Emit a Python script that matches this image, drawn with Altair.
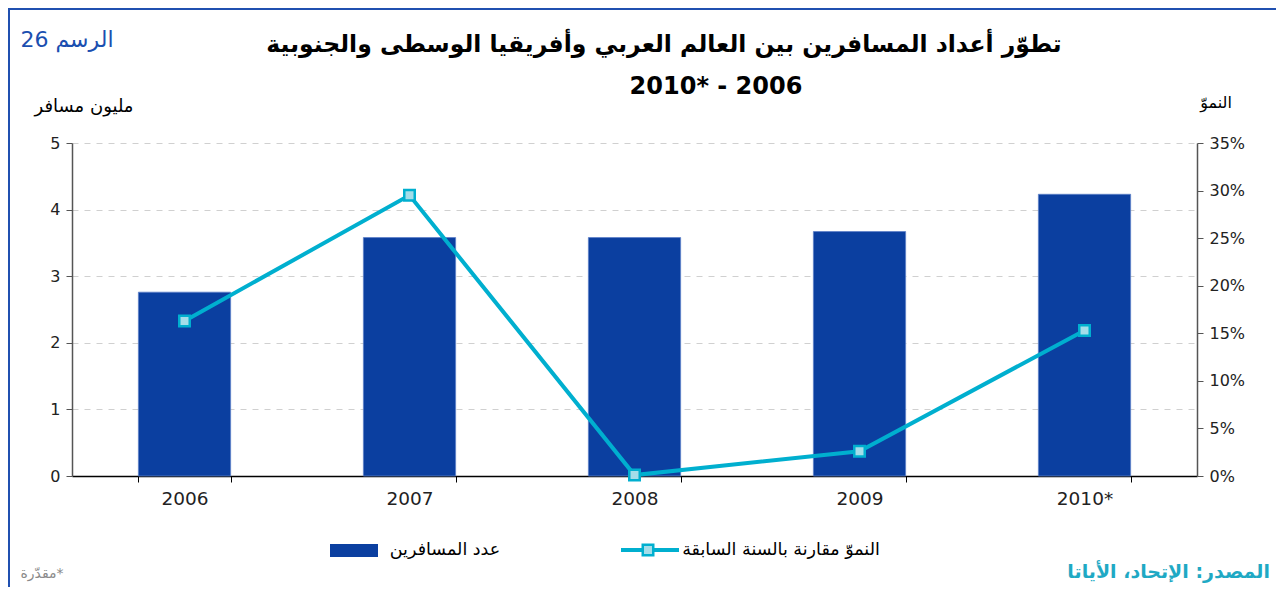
import altair as alt
import pandas as pd

years = ["2006", "2007", "2008", "2009", "2010*"]
passengers = [2.76, 3.58, 3.58, 3.67, 4.23]
growth = [0.163, 0.295, 0.001, 0.026, 0.153]

title1 = "تطوّر أعداد المسافرين بين العالم العربي وأفريقيا الوسطى والجنوبية"
title2 = "2010* - 2006"
fig_label = "الرسم 26"
left_title = "مليون مسافر"
right_title = "النموّ"
legend_bar = "عدد المسافرين"
legend_line = "النموّ مقارنة بالسنة السابقة"
note = "مقدّرة*"
source = "المصدر: الإتحاد، الأياتا"

BAR = "#0b3fa0"
LINE = "#00afcf"
AR_FONT = "DejaVu Sans"
NUM_FONT = "DejaVu Sans"

df = pd.DataFrame({"year": years, "passengers": passengers, "growth": growth})
one = pd.DataFrame({"k": [0]})

xenc = alt.X("year:N", sort=years,
             scale=alt.Scale(paddingInner=0.59, paddingOuter=0.295),
             axis=alt.Axis(title=None, labelAngle=0, labelFontSize=18.5, labelFont=NUM_FONT,
                           labelColor="#222", domainColor="#000", domainWidth=1.5,
                           tickColor="#000", tickSize=6, tickBand="extent", labelPadding=7,
                           grid=False))

bars = alt.Chart(df).mark_bar(color=BAR, stroke="#5d80c8", strokeWidth=0.8).encode(
    x=xenc,
    y=alt.Y("passengers:Q", scale=alt.Scale(domain=[0, 5], nice=False),
            axis=alt.Axis(title=None, values=[0, 1, 2, 3, 4, 5], labelFontSize=16,
                          labelFont=NUM_FONT, labelColor="#222", domainColor="#555",
                          domainWidth=1.5, tickColor="#555", tickSize=6, labelPadding=6,
                          grid=True, gridColor="#d0d0d0", gridDash=[6, 6], gridWidth=1)),
)

yr = alt.Y("growth:Q", scale=alt.Scale(domain=[0, 0.35], nice=False),
           axis=alt.Axis(title=None, orient="right", format=".0%",
                         values=[0, 0.05, 0.1, 0.15, 0.2, 0.25, 0.3, 0.35],
                         labelFontSize=16, labelFont=NUM_FONT, labelColor="#222",
                         domainColor="#555", domainWidth=1.5, tickColor="#555",
                         tickSize=6, labelPadding=6, grid=False))

line = alt.Chart(df).mark_line(color=LINE, strokeWidth=4).encode(x=xenc, y=yr)
pts = alt.Chart(df).mark_point(shape="square", filled=True, fill="#a4dde9", stroke=LINE,
                               strokeWidth=2.5, size=110, opacity=1).encode(x=xenc, y=yr)

main = alt.layer(bars, alt.layer(line, pts)).resolve_scale(y="independent")


def txt(s, x, y, size, color="#000", weight="normal", align="center", font=AR_FONT):
    return alt.Chart(one).mark_text(text=s, fontSize=size, color=color, fontWeight=weight,
                                    align=align, baseline="middle", font=font).encode(
        x=alt.value(x), y=alt.value(y))


deco = [
    txt(title1, 592, -98, 23.5, weight="bold"),
    txt(title2, 644, -56, 24, weight="bold"),
    txt(fig_label, -5, -103, 22, color="#1a4fb0"),
    txt(left_title, 12, -36, 18),
    txt(right_title, 1144, -40, 16),
    txt(legend_bar, 373, 407, 17.5),
    txt(legend_line, 709, 407, 17.5),
    txt(note, -30, 431, 14, color="#8a8a8a"),
    txt(source, 1198, 429, 19, color="#1fa9c4", weight="bold", align="right"),
    alt.Chart(one).mark_rect(color=BAR).encode(x=alt.value(258), x2=alt.value(306),
                                               y=alt.value(401), y2=alt.value(414)),
    alt.Chart(one).mark_rule(color=LINE, strokeWidth=4).encode(x=alt.value(549), x2=alt.value(607),
                                                               y=alt.value(407)),
    alt.Chart(one).mark_point(shape="square", filled=True, fill="#a4dde9", stroke=LINE,
                              strokeWidth=2.5, size=110, opacity=1).encode(
        x=alt.value(576), y=alt.value(407)),
    alt.Chart(one).mark_rule(color="#2050b0", strokeWidth=2).encode(x=alt.value(-64), x2=alt.value(1204),
                                                                    y=alt.value(-134)),
    alt.Chart(one).mark_rule(color="#2050b0", strokeWidth=2).encode(x=alt.value(-63), y=alt.value(-134),
                                                                    y2=alt.value(444)),
]

chart = alt.layer(main, *deco).properties(
    width=1125, height=333,
    autosize=alt.AutoSizeParams(type="none"),
    padding={"left": 64, "top": 135, "right": 79, "bottom": 111},
).configure_view(stroke=None)

chart.save("out.html", embed_options={"renderer": "svg", "actions": False})
